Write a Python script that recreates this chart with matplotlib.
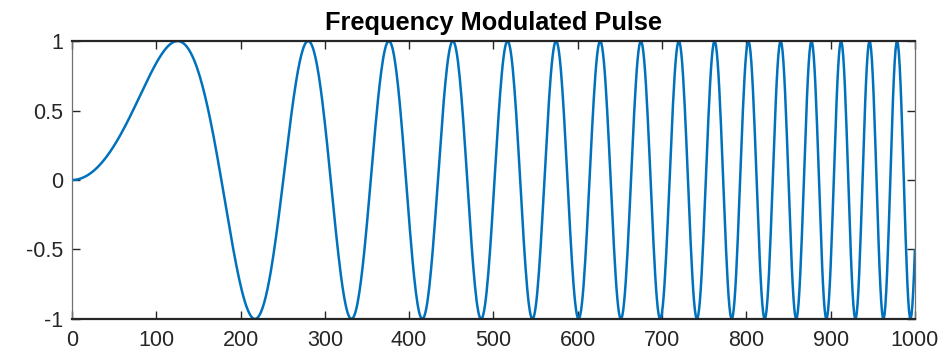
import numpy as np
import matplotlib.pyplot as plt

# chirp: peaks at ~125, 282, 377 ... -> sin(t^2 / 1e4)
t = np.arange(0, 1001)
pulse = np.sin(t ** 2 / 10000.0)

x_ticks = [0, 100, 200, 300, 400, 500, 600, 700, 800, 900, 1000]
y_ticks = [-1, -0.5, 0, 0.5, 1]
y_labels = ["-1", "-0.5", "0", "0.5", "1"]
title = "Frequency Modulated Pulse"

plt.rcParams['font.family'] = ['Liberation Sans', 'DejaVu Sans']

fig = plt.figure(figsize=(9.53, 3.54), dpi=100)
ax = fig.add_axes([0.0755, 0.099, 0.8845, 0.785])
ax.plot(t, pulse, color="#0072BD", linewidth=1.8)

ax.set_xlim(0, 1000)
ax.set_ylim(-1, 1)
ax.set_xticks(x_ticks)
ax.set_yticks(y_ticks)
ax.set_yticklabels(y_labels)
ax.tick_params(direction="in", length=6, width=1.0, colors="#262626",
               labelsize=15.5, top=True, right=True, pad=6)
ax.tick_params(axis="x", pad=8)

for side in ["top", "bottom"]:
    ax.spines[side].set_linewidth(1.6)
    ax.spines[side].set_color("#262626")
for side in ["left", "right"]:
    ax.spines[side].set_linewidth(0.9)
    ax.spines[side].set_color("#707070")

ax.set_title(title, fontsize=18.3, fontweight="bold", color="black", pad=8)

fig.savefig("out.png", dpi=100)
